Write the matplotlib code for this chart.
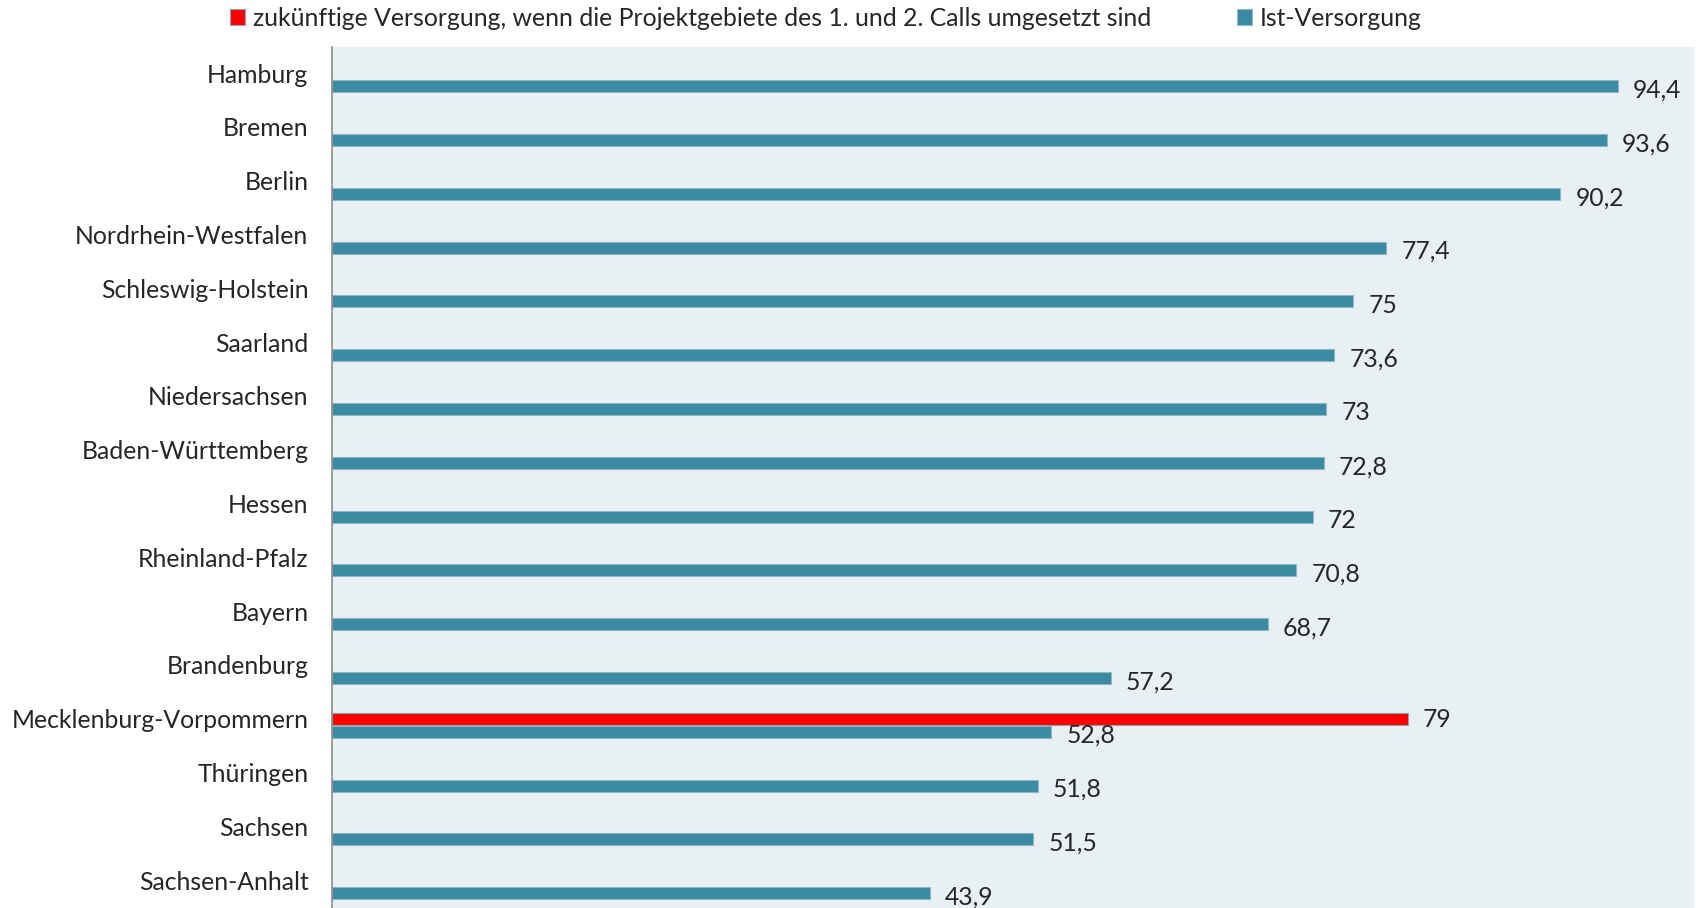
import numpy as np
import matplotlib.pyplot as plt

# data
laender = ['Hamburg', 'Bremen', 'Berlin', 'Nordrhein-Westfalen', 'Schleswig-Holstein',
           'Saarland', 'Niedersachsen', 'Baden-Württemberg', 'Hessen', 'Rheinland-Pfalz',
           'Bayern', 'Brandenburg', 'Mecklenburg-Vorpommern', 'Thüringen', 'Sachsen',
           'Sachsen-Anhalt']
ist = [94.4, 93.6, 90.2, 77.4, 75, 73.6, 73, 72.8, 72, 70.8, 68.7, 57.2, 52.8, 51.8, 51.5, 43.9]
zukunft = [np.nan] * 12 + [79] + [np.nan] * 3

lbl_zukunft = 'zukünftige Versorgung, wenn die Projektgebiete des 1. und 2. Calls umgesetzt sind'
lbl_ist = 'Ist-Versorgung'

plt.rcParams['font.family'] = ['Lato', 'DejaVu Sans']

teal = '#3B8AA1'
red = '#FF0000'
fs = 17.8

fig = plt.figure(figsize=(16.96, 9.08), dpi=100)
ax = fig.add_axes([0.1958, 0.0, 0.803, 0.948])
ax.set_facecolor('#E8F0F4')

y = np.arange(len(laender))
h = 0.22
off = 0.245

b1 = ax.barh(y, zukunft, height=h, color=red, edgecolor='#7FA8B8', linewidth=0.8, label=lbl_zukunft)
b2 = ax.barh(y + off, ist, height=h, color=teal, edgecolor='#8DB9C7', linewidth=0.8, label=lbl_ist)

def fmt(v):
    return ('%g' % v).replace('.', ',')

# value labels
for yi, v in zip(y, zukunft):
    if not np.isnan(v):
        ax.text(v + 1.1, yi + 0.02, fmt(v), va='center', ha='left', fontsize=fs, color='#262626')
for yi, v in zip(y + off, ist):
    ax.text(v + 1.1, yi + 0.07, fmt(v), va='center', ha='left', fontsize=fs, color='#262626')

ax.set_xlim(0, 100)
ax.set_ylim(15.52, -0.48)
ax.set_yticks(y)
ax.set_yticklabels(laender, fontsize=fs, color='#262626')
ax.tick_params(axis='y', length=0, pad=17)
ax.set_xticks([])
for s in ['top', 'right', 'bottom']:
    ax.spines[s].set_visible(False)
ax.spines['left'].set_color('#8C8C8C')
ax.spines['left'].set_linewidth(1.2)

fig.legend(handles=[b1, b2], loc='center', bbox_to_anchor=(0.487, 0.98), ncol=2,
           frameon=False, fontsize=fs, handlelength=0.6, handleheight=0.6,
           handletextpad=0.3, columnspacing=3.5, labelcolor='#262626')

fig.savefig('out.png', dpi=100)
